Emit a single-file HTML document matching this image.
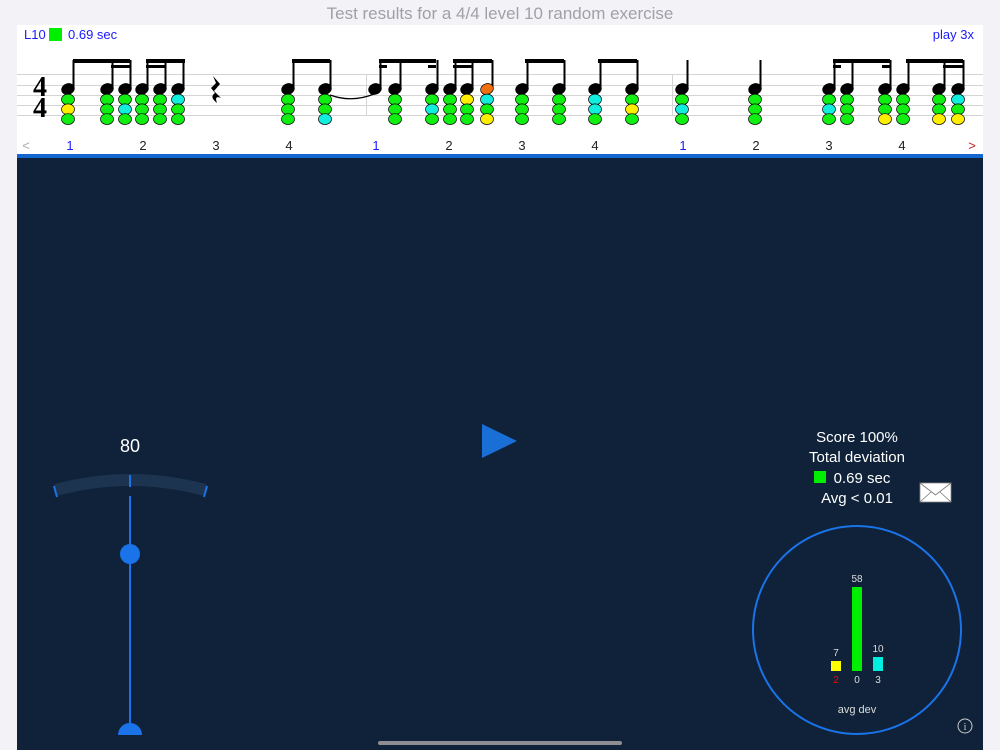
<!DOCTYPE html>
<html><head><meta charset="utf-8"><style>
html,body{margin:0;padding:0;background:#f2f2f7;}
svg{display:block;font-family:"Liberation Sans",sans-serif;}
</style></head><body>
<svg width="1000" height="750" viewBox="0 0 1000 750" xmlns="http://www.w3.org/2000/svg">
<rect width="1000" height="750" fill="#f2f2f7"/>
<text x="500" y="19" text-anchor="middle" font-size="17" fill="#a0a0a6">Test results for a 4/4 level 10 random exercise</text>
<rect x="17" y="25" width="966" height="130" fill="#fff"/>
<rect x="17" y="154" width="966" height="4" fill="#1467d0"/>
<rect x="17" y="158" width="966" height="592" fill="#0f2239"/>
<text x="24" y="39" font-size="13" fill="#1a1aff">L10</text>
<rect x="49" y="28" width="13" height="13" fill="#00ee00"/>
<text x="68" y="39" font-size="13" fill="#1a1aff">0.69 sec</text>
<text x="974" y="39" font-size="13" fill="#1a1aff" text-anchor="end">play 3x</text>
<g stroke="#d4d4d4" stroke-width="1">
<line x1="17" y1="74.5" x2="983" y2="74.5"/><line x1="17" y1="85.5" x2="983" y2="85.5"/><line x1="17" y1="95.5" x2="983" y2="95.5"/><line x1="17" y1="105.5" x2="983" y2="105.5"/><line x1="17" y1="115.5" x2="983" y2="115.5"/>
<line x1="366.5" y1="74" x2="366.5" y2="115"/><line x1="672.5" y1="74" x2="672.5" y2="115"/>
</g>
<text x="40" y="96" font-family="Liberation Serif" font-weight="bold" font-size="28" text-anchor="middle">4</text>
<text x="40" y="117" font-family="Liberation Serif" font-weight="bold" font-size="28" text-anchor="middle">4</text>
<path d="M213 76 L220 84 L214 91 L221 98 Q214 95 217 103 Q209 97 215 93 L211 88 L216 83 Z" fill="#000"/>
<g id="notes" stroke="#000" stroke-width="0.7"></g>
<g fill="#000">
<rect x="73" y="59" width="57" height="4"/><rect x="111" y="65" width="19" height="3"/>
<rect x="146" y="59" width="39" height="4"/><rect x="146" y="65" width="19" height="3"/>
<rect x="292" y="59" width="38" height="4"/>
<rect x="379" y="59" width="57" height="4"/><rect x="379" y="65" width="8" height="3"/><rect x="428" y="65" width="8" height="3"/>
<rect x="453" y="59" width="39" height="4"/><rect x="453" y="65" width="19" height="3"/>
<rect x="525" y="59" width="39" height="4"/>
<rect x="598" y="59" width="39" height="4"/>
<rect x="833" y="59" width="57" height="4"/><rect x="833" y="65" width="8" height="3"/><rect x="882" y="65" width="8" height="3"/>
<rect x="906" y="59" width="57" height="4"/><rect x="943" y="65" width="20" height="3"/>
</g>
<path d="M330 95 Q352 103 374 94" fill="none" stroke="#000" stroke-width="1.3"/>
<g font-size="13" text-anchor="middle" fill="#222">
<text x="26" y="150" fill="#aaa">&lt;</text>
<text x="70" y="150" fill="#1a1aff">1</text><text x="143" y="150">2</text><text x="216" y="150">3</text><text x="289" y="150">4</text>
<text x="376" y="150" fill="#1a1aff">1</text><text x="449" y="150">2</text><text x="522" y="150">3</text><text x="595" y="150">4</text>
<text x="683" y="150" fill="#1a1aff">1</text><text x="756" y="150">2</text><text x="829" y="150">3</text><text x="902" y="150">4</text>
<text x="972" y="150" fill="#b22">&gt;</text>
</g>
<text x="130" y="452" font-size="18" fill="#fff" text-anchor="middle">80</text>
<path d="M56 490 Q130 470 205 490" fill="none" stroke="#1d3450" stroke-width="12"/>
<line x1="54" y1="486" x2="57" y2="497" stroke="#1a73e8" stroke-width="2"/>
<line x1="207" y1="486" x2="204" y2="497" stroke="#1a73e8" stroke-width="2"/>
<line x1="130" y1="475" x2="130" y2="487" stroke="#1a73e8" stroke-width="2"/>
<line x1="130" y1="496" x2="130" y2="730" stroke="#1a73e8" stroke-width="2"/>
<circle cx="130" cy="554" r="10" fill="#1a73e8"/>
<path d="M118 735 A12 12 0 0 1 142 735 Z" fill="#1a73e8"/>
<polygon points="482,424 517,441 482,458" fill="#1a6fd6"/>
<g font-size="15" fill="#fff" text-anchor="middle">
<text x="857" y="442">Score 100%</text>
<text x="857" y="462">Total deviation</text>
<text x="862" y="483">0.69 sec</text>
<text x="857" y="503">Avg &lt; 0.01</text>
</g>
<rect x="814" y="471" width="12" height="12" fill="#00ee00"/>
<rect x="920" y="483" width="31" height="19" fill="#fff" stroke="#888" stroke-width="0.8"/>
<path d="M920 483 L935.5 495 L951 483 M920 502 L931 492 M951 502 L940 492" fill="none" stroke="#777" stroke-width="0.8"/>
<circle cx="857" cy="630" r="104" fill="none" stroke="#1a73e8" stroke-width="2"/>
<rect x="852" y="587" width="10" height="84" fill="#00ee00"/>
<rect x="831" y="661" width="10" height="10" fill="#ffff00"/>
<rect x="873" y="657" width="10" height="14" fill="#00eedd"/>
<g font-size="10" fill="#ddd" text-anchor="middle">
<text x="857" y="582">58</text><text x="836" y="656">7</text><text x="878" y="652">10</text>
<text x="836" y="683" fill="#e00">2</text><text x="857" y="683">0</text><text x="878" y="683">3</text>
<text x="857" y="713" font-size="11">avg dev</text>
</g>
<circle cx="965" cy="726" r="7" fill="none" stroke="#ccc" stroke-width="1"/>
<text x="965" y="730" font-size="10" fill="#ccc" text-anchor="middle" font-family="Liberation Serif">i</text>
<rect x="378" y="741" width="244" height="4" rx="2" fill="#8e8e93"/>
</svg>
<script>
var G={g:"#11ee11",y:"#ffee00",c:"#11eedd"};
var N=[[68,"gyg"],[107,"ggg"],[125,"gcg"],[142,"ggg"],[160,"ggg"],[178,"cgg"],[288,"ggg"],[325,"ggc"],[375,""],[395,"ggg"],[432,"gcg"],[450,"ggg"],[467,"ygg"],[487,"cgy",1],[522,"ggg"],[559,"ggg"],[595,"ccg"],[632,"gyg"],[682,"gcg"],[755,"ggg"],[829,"gcg"],[847,"ggg"],[885,"ggy"],[903,"ggg"],[939,"ggy"],[958,"cgy"]];
var s="";
N.forEach(function(n){var x=n[0];
s+='<line x1="'+(x+5.5)+'" y1="88" x2="'+(x+5.5)+'" y2="60" stroke-width="2"/>';
s+='<ellipse cx="'+x+'" cy="89" rx="6.5" ry="5.3" fill="'+(n[2]?"#f07010":"#000")+'" transform="rotate(-20 '+x+' 89)"/>';
for(var i=0;i<n[1].length;i++){var y=99.5+i*9.8;s+='<ellipse cx="'+x+'" cy="'+y+'" rx="6.5" ry="5.4" fill="'+G[n[1][i]]+'"/>';}
});
document.getElementById("notes").innerHTML=s;
</script>
</body></html>
